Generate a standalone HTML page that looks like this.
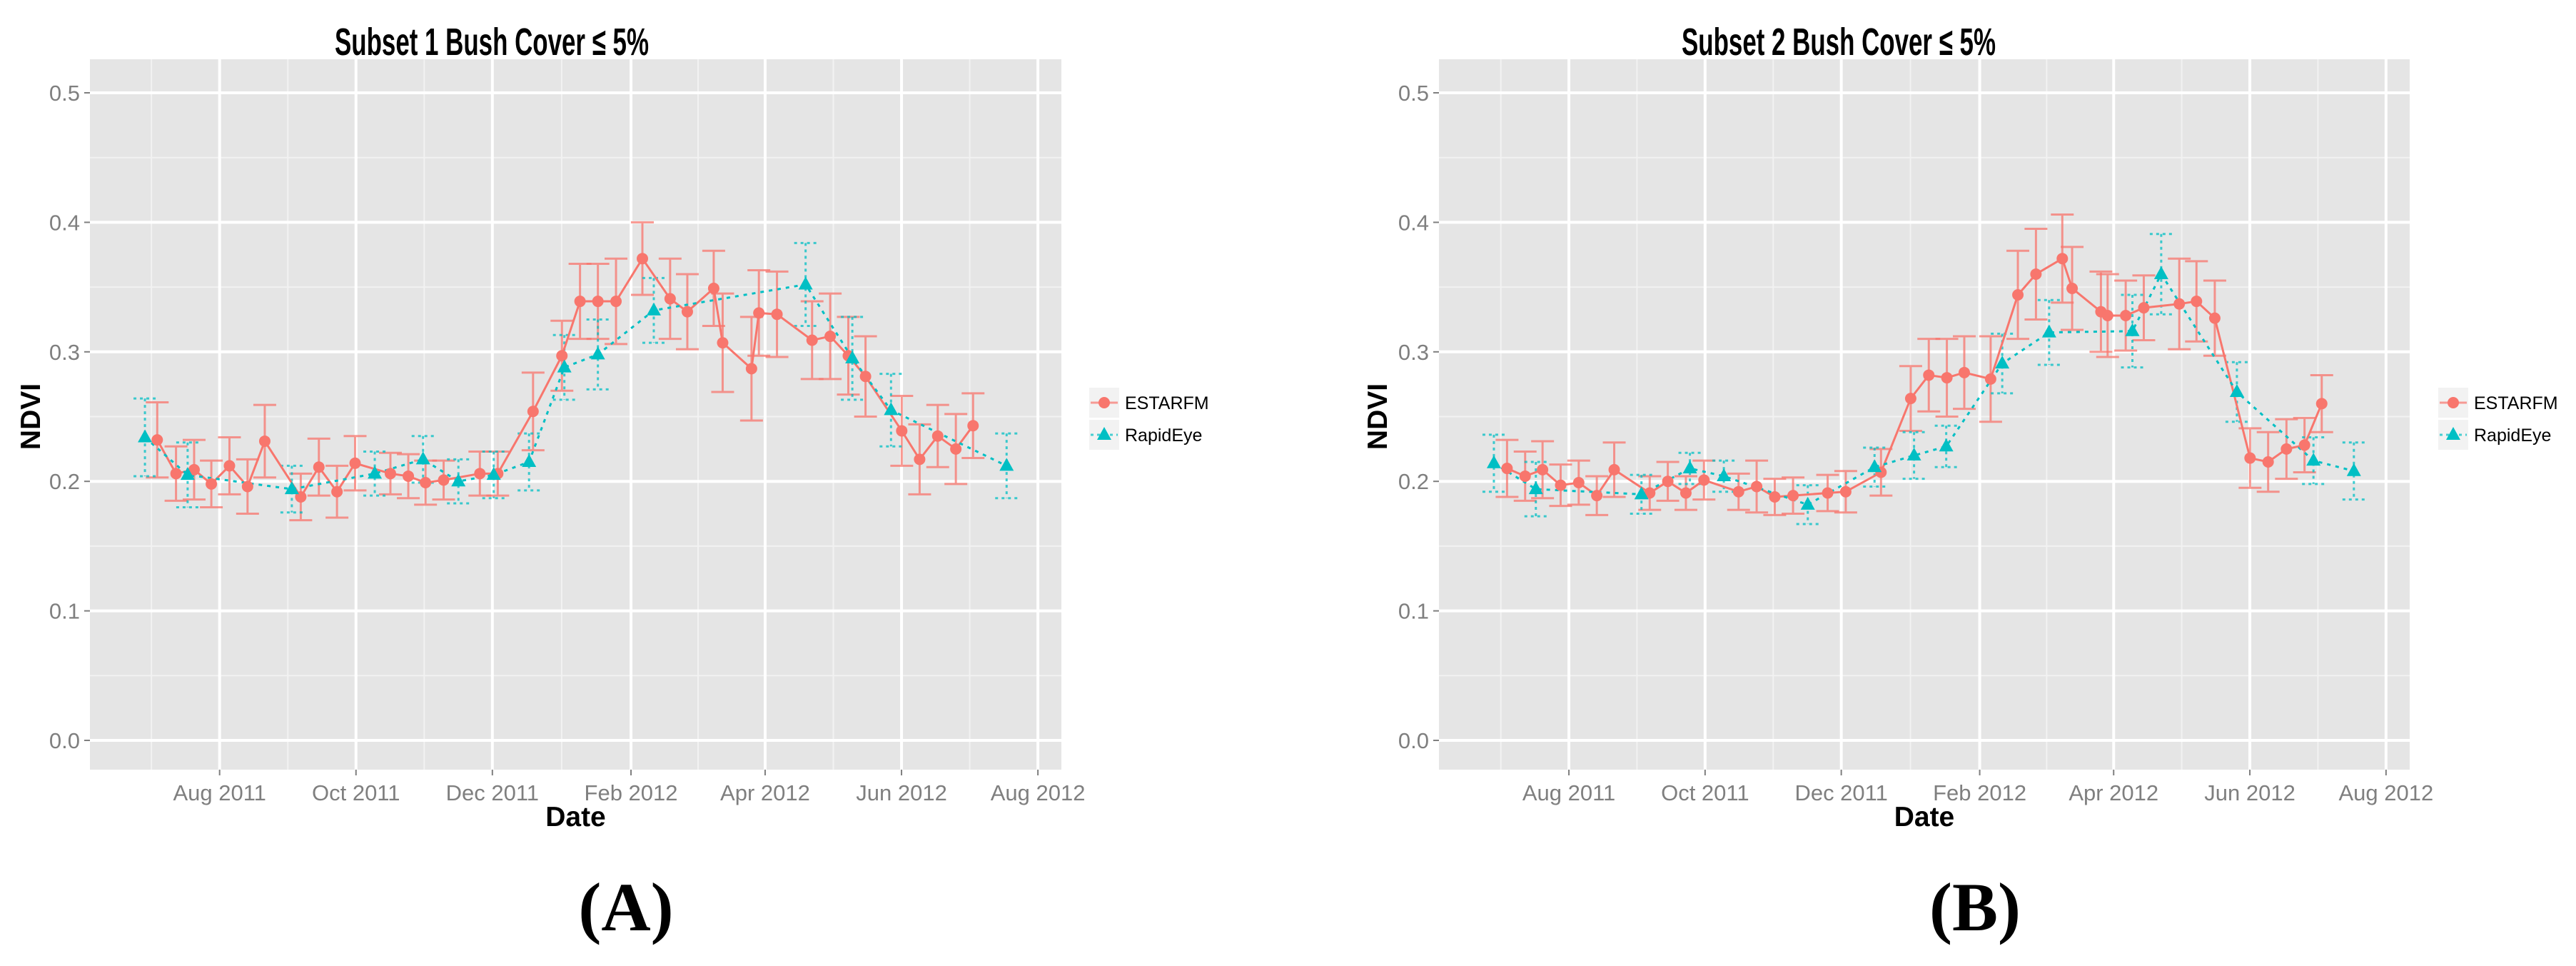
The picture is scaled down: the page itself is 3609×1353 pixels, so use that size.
<!DOCTYPE html>
<html><head><meta charset="utf-8"><style>
html,body{margin:0;padding:0;background:#fff;}
svg{display:block;}
</style></head><body>
<svg id="chart" xmlns="http://www.w3.org/2000/svg" width="3609" height="1353" viewBox="0 0 3609 1353" font-family="'Liberation Sans', Arial, sans-serif"></svg>
<script>
// ---- Data (day offset from 1 Aug 2011, NDVI, error half-width) ----
const yTicks = [0.0, 0.1, 0.2, 0.3, 0.4, 0.5];
const yTickLabels = ["0.0", "0.1", "0.2", "0.3", "0.4", "0.5"];
const xTickDays = [0, 61, 122, 184, 244, 305, 366];
const xTickLabels = ["Aug 2011", "Oct 2011", "Dec 2011", "Feb 2012", "Apr 2012", "Jun 2012", "Aug 2012"];
const seriesNames = ["ESTARFM", "RapidEye"];

const aEstDays = [-27.9,-19.5,-11.4,-3.7,4.4,12.5,20.2,36.3,44.4,52.5,60.6,76.4,84.4,92.1,100.2,116.4,124.4,140.2,153.1,161.2,169.2,177.3,189.1,201.5,209.2,221.0,225.0,237.9,241.2,249.3,265.0,273.1,281.2,288.9,305.1,313.1,321.2,329.3,337.0];
const aEstVals = [0.232,0.206,0.209,0.198,0.212,0.196,0.231,0.188,0.211,0.192,0.214,0.206,0.204,0.199,0.201,0.206,0.206,0.254,0.297,0.339,0.339,0.339,0.372,0.341,0.331,0.349,0.307,0.287,0.330,0.329,0.309,0.312,0.297,0.281,0.239,0.217,0.235,0.225,0.243];
const aEstErr = [0.029,0.021,0.023,0.018,0.022,0.021,0.028,0.018,0.022,0.020,0.021,0.016,0.017,0.017,0.015,0.017,0.017,0.030,0.027,0.029,0.029,0.033,0.028,0.031,0.029,0.029,0.038,0.040,0.033,0.033,0.030,0.033,0.030,0.031,0.027,0.027,0.024,0.027,0.025];
const aRapDays = [-33.4,-14.3,32.3,69.4,91.0,106.8,122.6,138.4,154.2,169.2,194.2,262.1,283.0,300.3,352.0];
const aRapVals = [0.234,0.205,0.194,0.206,0.217,0.200,0.205,0.215,0.288,0.298,0.332,0.352,0.295,0.255,0.212];
const aRapErr = [0.030,0.025,0.018,0.017,0.018,0.017,0.018,0.022,0.025,0.027,0.025,0.032,0.032,0.028,0.025];

const bEstDays = [-27.7,-19.6,-11.8,-3.7,4.4,12.5,20.3,36.2,44.3,52.4,60.5,76.0,84.1,92.2,100.4,115.9,124.0,139.8,153.1,161.2,169.3,177.1,188.9,201.1,209.2,221.0,225.4,238.3,241.3,249.4,257.5,273.4,281.1,289.3,305.1,313.2,321.4,329.5,337.2];
const bEstVals = [0.210,0.204,0.209,0.197,0.199,0.189,0.209,0.191,0.200,0.191,0.201,0.192,0.196,0.188,0.189,0.191,0.192,0.207,0.264,0.282,0.280,0.284,0.279,0.344,0.360,0.372,0.349,0.331,0.328,0.328,0.334,0.337,0.339,0.326,0.218,0.215,0.225,0.228,0.260];
const bEstErr = [0.022,0.019,0.022,0.016,0.017,0.015,0.021,0.013,0.015,0.013,0.015,0.014,0.020,0.014,0.014,0.014,0.016,0.018,0.025,0.028,0.030,0.028,0.033,0.034,0.035,0.034,0.032,0.031,0.032,0.027,0.025,0.035,0.031,0.029,0.023,0.023,0.023,0.021,0.022];
const bRapDays = [-33.6,-14.8,32.5,54.2,69.4,107.0,136.9,154.6,169.0,194.1,215.1,252.4,265.3,299.2,333.5,351.6];
const bRapVals = [0.214,0.194,0.190,0.210,0.204,0.182,0.211,0.220,0.227,0.291,0.315,0.316,0.360,0.269,0.216,0.208];
const bRapErr = [0.022,0.021,0.015,0.012,0.012,0.015,0.015,0.018,0.016,0.023,0.025,0.028,0.031,0.023,0.018,0.022];

const NS = "http://www.w3.org/2000/svg";
const svg = document.getElementById("chart");
function mk(tag, attrs, parent) {
  const e = document.createElementNS(NS, tag);
  for (const k in attrs) e.setAttribute(k, attrs[k]);
  (parent || svg).appendChild(e);
  return e;
}
const COL_E = "#F8766D", COL_R = "#00BFC4";

function drawPanel(p, estD, estV, estE, rapD, rapV, rapE) {
  const g = mk("g", {});
  
  
  const xS = d => p.x0 + (d - p.d0) / (p.d1 - p.d0) * (p.x1 - p.x0);
  const yS = v => p.yZero - v * (p.yZero - p.yHalf) / 0.5;
  const bg = mk("rect", {x: p.x0, y: p.y0, width: p.x1 - p.x0, height: p.y1 - p.y0, fill: "#E5E5E5"}, g);
  
  
  for (let i = 0; i < yTicks.length - 1; i++) {
    const y = yS((yTicks[i] + yTicks[i + 1]) / 2);
    const l = mk("line", {x1: p.x0, x2: p.x1, y1: y, y2: y, stroke: "#F2F2F2", "stroke-width": 2}, g);
    
    
  }
  for (let i = 0; i < xTickDays.length - 1; i++) {
    const x = xS((xTickDays[i] + xTickDays[i + 1]) / 2);
    const l = mk("line", {x1: x, x2: x, y1: p.y0, y2: p.y1, stroke: "#F2F2F2", "stroke-width": 2}, g);
    
    
  }
  { const x = xS(xTickDays[0] - 30.5);
    const l = mk("line", {x1: x, x2: x, y1: p.y0, y2: p.y1, stroke: "#F2F2F2", "stroke-width": 2}, g);
    
     }
  yTicks.forEach((t, i) => {
    const y = yS(t);
    const l = mk("line", {x1: p.x0, x2: p.x1, y1: y, y2: y, stroke: "#FFFFFF", "stroke-width": 4}, g);
    
    
    const tk = mk("line", {x1: p.x0 - 8, x2: p.x0, y1: y, y2: y, stroke: "#7F7F7F", "stroke-width": 2}, g);
    
    
    const tx = mk("text", {x: p.x0 - 14, y: y + 11, "text-anchor": "end", "font-size": 31, fill: "#7F7F7F"}, g);
    tx.textContent = yTickLabels[i];
    
    
  });
  xTickDays.forEach((d, i) => {
    const x = xS(d);
    const l = mk("line", {x1: x, x2: x, y1: p.y0, y2: p.y1, stroke: "#FFFFFF", "stroke-width": 4}, g);
    
    
    const tk = mk("line", {x1: x, x2: x, y1: p.y1, y2: p.y1 + 8, stroke: "#7F7F7F", "stroke-width": 2}, g);
    
    
    const tx = mk("text", {x: x, y: p.y1 + 43, "text-anchor": "middle", "font-size": 31, fill: "#7F7F7F"}, g);
    tx.textContent = xTickLabels[i];
    
    
  });
  function errBars(D, V, E, col, dash, nm) {
    D.forEach((d, i) => {
      const x = xS(d), yt = yS(V[i] + E[i]), yb = yS(V[i] - E[i]);
      const eg = mk("g", {stroke: col, "stroke-width": 3, "stroke-dasharray": dash, opacity: 0.75}, g);
      
      
      mk("line", {x1: x, x2: x, y1: yt, y2: yb}, eg);
      mk("line", {x1: x - 16, x2: x + 16, y1: yt, y2: yt}, eg);
      mk("line", {x1: x - 16, x2: x + 16, y1: yb, y2: yb}, eg);
    });
  }
  errBars(estD, estV, estE, COL_E, "none", "estarfm-error-bar");
  errBars(rapD, rapV, rapE, COL_R, "4 5", "rapideye-error-bar");
  const le = mk("polyline", {points: estD.map((d, i) => xS(d) + "," + yS(estV[i])).join(" "), fill: "none", stroke: COL_E, "stroke-width": 3}, g);
  
  
  const lr = mk("polyline", {points: rapD.map((d, i) => xS(d) + "," + yS(rapV[i])).join(" "), fill: "none", stroke: COL_R, "stroke-width": 3, "stroke-dasharray": "5 7"}, g);
  
  
  estD.forEach((d, i) => {
    const c = mk("circle", {cx: xS(d), cy: yS(estV[i]), r: 8, fill: COL_E}, g);
    
    
  });
  rapD.forEach((d, i) => {
    const x = xS(d), y = yS(rapV[i]);
    const t = mk("polygon", {points: (x) + "," + (y - 11) + " " + (x - 10) + "," + (y + 7) + " " + (x + 10) + "," + (y + 7), fill: COL_R}, g);
    
    
  });
  const tt = mk("text", {x: p.titleX, y: 77, "text-anchor": "middle", "font-size": 54, "font-weight": "bold", fill: "#000", textLength: 440, lengthAdjust: "spacingAndGlyphs"}, g);
  tt.textContent = p.title;
  
  
  const xt = mk("text", {x: (p.x0 + p.x1) / 2, y: 1157, "text-anchor": "middle", "font-size": 39, "font-weight": "bold", fill: "#000"}, g);
  xt.textContent = "Date";
  
  
  const yt = mk("text", {x: 0, y: 0, "text-anchor": "middle", "font-size": 39, "font-weight": "bold", fill: "#000", transform: "translate(" + p.yTitleX + "," + yS(0.25) + ") rotate(-90)"}, g);
  yt.textContent = "NDVI";
  
  
  const lg = mk("g", {}, g);
  
  
  [0, 1].forEach(k => {
    const ky = 543 + k * 45;
    const kb = mk("rect", {x: p.legX, y: ky, width: 42, height: 42, fill: "#F2F2F2"}, lg);
    
    
    const col = k === 0 ? COL_E : COL_R;
    mk("line", {x1: p.legX + 2, x2: p.legX + 40, y1: ky + 21, y2: ky + 21, stroke: col, "stroke-width": 3, "stroke-dasharray": k === 0 ? "none" : "4 5", opacity: 0.7}, lg);
    if (k === 0) mk("circle", {cx: p.legX + 21, cy: ky + 21, r: 8, fill: col}, lg);
    else mk("polygon", {points: (p.legX + 21) + "," + (ky + 10) + " " + (p.legX + 11) + "," + (ky + 28) + " " + (p.legX + 31) + "," + (ky + 28), fill: col}, lg);
    const lt = mk("text", {x: p.legX + 50, y: ky + 30, "font-size": 25, fill: "#000"}, lg);
    lt.textContent = seriesNames[k];
    
    
  });
  const pl = mk("text", {x: p.labelX, y: 1303, "text-anchor": "middle", "font-size": 96, "font-weight": "bold", fill: "#000", "font-family": "'Liberation Serif', serif"}, g);
  pl.textContent = p.label;
  
  
}

drawPanel({name: "panel-a", x0: 126, x1: 1487, y0: 83, y1: 1078, yHalf: 130, yZero: 1037, d0: -58, d1: 376.5,
  title: "Subset 1 Bush Cover ≤ 5%", titleX: 689, yTitleX: 56, legX: 1526, labelX: 877, label: "(A)"},
  aEstDays, aEstVals, aEstErr, aRapDays, aRapVals, aRapErr);
drawPanel({name: "panel-b", x0: 2016, x1: 3376, y0: 83, y1: 1078, yHalf: 130, yZero: 1037, d0: -58.2, d1: 376.6,
  title: "Subset 2 Bush Cover ≤ 5%", titleX: 2576, yTitleX: 1943, legX: 3416, labelX: 2767, label: "(B)"},
  bEstDays, bEstVals, bEstErr, bRapDays, bRapVals, bRapErr);
</script>
</body></html>
